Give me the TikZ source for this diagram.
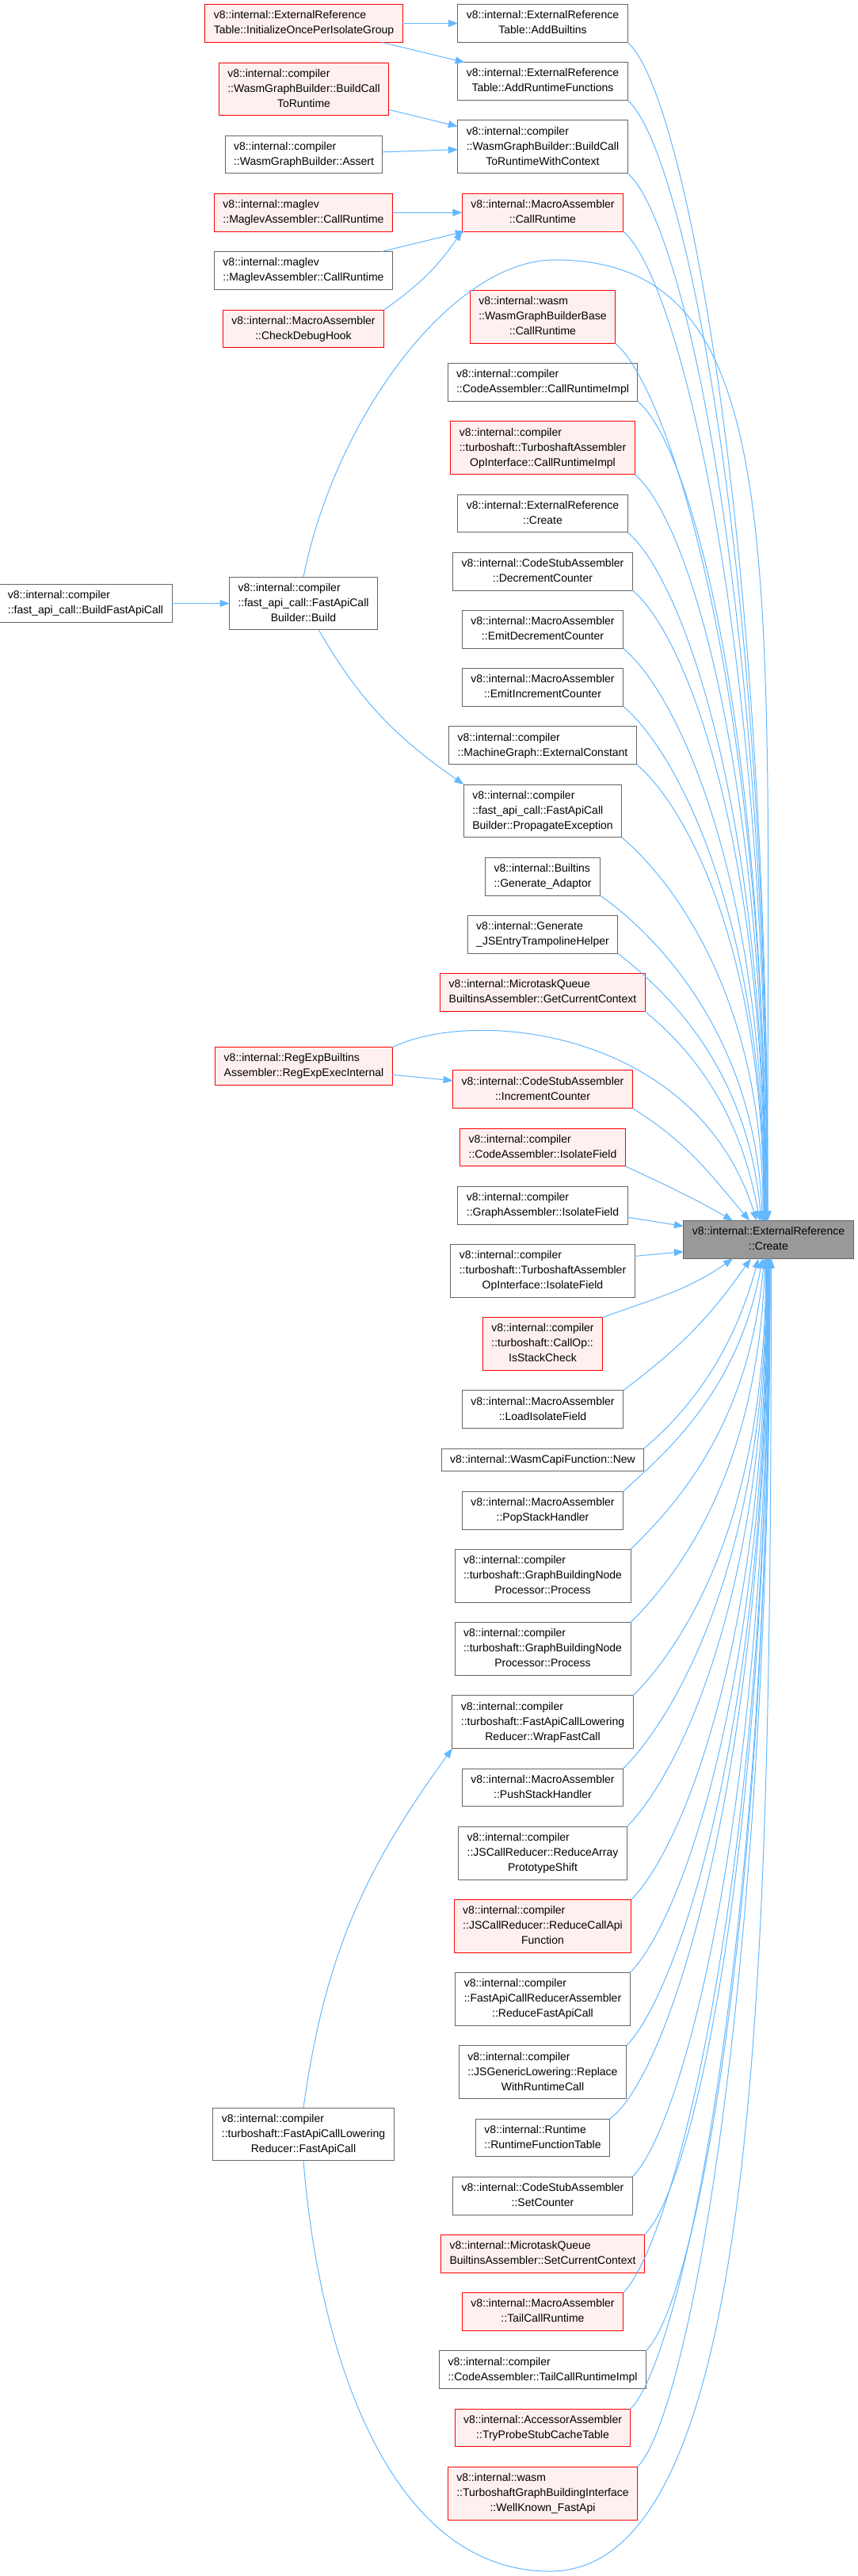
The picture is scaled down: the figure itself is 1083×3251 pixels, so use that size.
\documentclass[tikz,border=0pt]{standalone}
\usepackage{fontspec}
\setmainfont{Liberation Sans}
\usepackage{xcolor}
\usepackage{tikz}
\usetikzlibrary{arrows.meta, positioning}
\definecolor{fngray}{HTML}{666666}
\definecolor{fnredline}{HTML}{FF0000}
\definecolor{fnredfill}{HTML}{FFF0F0}
\definecolor{rootfill}{HTML}{999999}
\definecolor{callblue}{RGB}{99,184,255}
% doxygen-like label: left lines, last line centred
\newcommand{\fnlabel}[2]{\begin{tabular}{@{}l@{}}#1\\\multicolumn{1}{@{}c@{}}{#2}\end{tabular}}
\newcommand{\fnline}[1]{\begin{tabular}{@{}c@{}}#1\end{tabular}}

\begin{document}
\begin{tikzpicture}[
    x=1pt, y=1pt,
    node distance=25.4pt,
    fn/.style={rectangle, draw=fngray, fill=white, line width=1pt, outer sep=0pt, inner xsep=11pt, inner ysep=4.9pt, font=\fontsize{14}{19}\selectfont},
    fnred/.style={fn, draw=fnredline, fill=fnredfill},
    fnroot/.style={fn, fill=rootfill},
    arrow/.style={-{Triangle[length=12pt,width=9pt]}, line width=1pt, draw=callblue}
]
    \fill[white] (0,0) rectangle (1083,-3251);
    \useasboundingbox (0,0) rectangle (1083,-3251);

    % the function itself
    \node[fnroot] (tgt) at (970,-1564.5) {\fnline{v8::internal::ExternalReference\\::Create}};

    % direct callers
    \node[fn] (addbuilt) at (685,-29.5) {\fnlabel{v8::internal::ExternalReference}{Table::AddBuiltins}};
    \node[fn, below=of addbuilt] (addrt) {\fnlabel{v8::internal::ExternalReference}{Table::AddRuntimeFunctions}};
    \node[fn, below=of addrt] (wasmctx) {\fnlabel{v8::internal::compiler\\::WasmGraphBuilder::BuildCall}{ToRuntimeWithContext}};
    \node[fnred, below=of wasmctx] (macrocr) {\fnlabel{v8::internal::MacroAssembler}{::CallRuntime}};
    \node[fnred, below=74.4pt of macrocr] (wasmbase) {\fnlabel{v8::internal::wasm\\::WasmGraphBuilderBase}{::CallRuntime}};
    \node[fn, below=of wasmbase] (cacri) {\fnlabel{v8::internal::compiler}{::CodeAssembler::CallRuntimeImpl}};
    \node[fnred, below=of cacri] (tscri) {\fnlabel{v8::internal::compiler\\::turboshaft::TurboshaftAssembler}{OpInterface::CallRuntimeImpl}};
    \node[fn, below=of tscri] (erc) {\fnlabel{v8::internal::ExternalReference}{::Create}};
    \node[fn, below=of erc] (decctr) {\fnlabel{v8::internal::CodeStubAssembler}{::DecrementCounter}};
    \node[fn, below=of decctr] (emitdec) {\fnlabel{v8::internal::MacroAssembler}{::EmitDecrementCounter}};
    \node[fn, below=of emitdec] (emitinc) {\fnlabel{v8::internal::MacroAssembler}{::EmitIncrementCounter}};
    \node[fn, below=of emitinc] (extconst) {\fnlabel{v8::internal::compiler}{::MachineGraph::ExternalConstant}};
    \node[fn, below=of extconst] (propexc) {\fnlabel{v8::internal::compiler\\::fast\_api\_call::FastApiCall}{Builder::PropagateException}};
    \node[fn, below=of propexc] (genadapt) {\fnlabel{v8::internal::Builtins}{::Generate\_Adaptor}};
    \node[fn, below=of genadapt] (jsentry) {\fnlabel{v8::internal::Generate}{\_JSEntryTrampolineHelper}};
    \node[fnred, below=of jsentry] (getctx) {\fnlabel{v8::internal::MicrotaskQueue}{BuiltinsAssembler::GetCurrentContext}};
    \node[fnred, below=74.4pt of getctx] (incctr) {\fnlabel{v8::internal::CodeStubAssembler}{::IncrementCounter}};
    \node[fnred, below=of incctr] (caiso) {\fnlabel{v8::internal::compiler}{::CodeAssembler::IsolateField}};
    \node[fn, below=of caiso] (gaiso) {\fnlabel{v8::internal::compiler}{::GraphAssembler::IsolateField}};
    \node[fn, below=of gaiso] (tsiso) {\fnlabel{v8::internal::compiler\\::turboshaft::TurboshaftAssembler}{OpInterface::IsolateField}};
    \node[fnred, below=of tsiso] (stackchk) {\fnlabel{v8::internal::compiler\\::turboshaft::CallOp::}{IsStackCheck}};
    \node[fn, below=of stackchk] (loadiso) {\fnlabel{v8::internal::MacroAssembler}{::LoadIsolateField}};
    \node[fn, below=of loadiso] (capinew) {\fnline{v8::internal::WasmCapiFunction::New}};
    \node[fn, below=of capinew] (popsh) {\fnlabel{v8::internal::MacroAssembler}{::PopStackHandler}};
    \node[fn, below=of popsh] (procone) {\fnlabel{v8::internal::compiler\\::turboshaft::GraphBuildingNode}{Processor::Process}};
    \node[fn, below=of procone] (proctwo) {\fnlabel{v8::internal::compiler\\::turboshaft::GraphBuildingNode}{Processor::Process}};
    \node[fn, below=of proctwo] (wrapfc) {\fnlabel{v8::internal::compiler\\::turboshaft::FastApiCallLowering}{Reducer::WrapFastCall}};
    \node[fn, below=of wrapfc] (pushsh) {\fnlabel{v8::internal::MacroAssembler}{::PushStackHandler}};
    \node[fn, below=of pushsh] (arrshift) {\fnlabel{v8::internal::compiler\\::JSCallReducer::ReduceArray}{PrototypeShift}};
    \node[fnred, below=of arrshift] (callapi) {\fnlabel{v8::internal::compiler\\::JSCallReducer::ReduceCallApi}{Function}};
    \node[fn, below=of callapi] (redfac) {\fnlabel{v8::internal::compiler\\::FastApiCallReducerAssembler}{::ReduceFastApiCall}};
    \node[fn, below=of redfac] (replrt) {\fnlabel{v8::internal::compiler\\::JSGenericLowering::Replace}{WithRuntimeCall}};
    \node[fn, below=of replrt] (rtftable) {\fnlabel{v8::internal::Runtime}{::RuntimeFunctionTable}};
    \node[fn, below=of rtftable] (setctr) {\fnlabel{v8::internal::CodeStubAssembler}{::SetCounter}};
    \node[fnred, below=of setctr] (setctx) {\fnlabel{v8::internal::MicrotaskQueue}{BuiltinsAssembler::SetCurrentContext}};
    \node[fnred, below=of setctx] (tailcr) {\fnlabel{v8::internal::MacroAssembler}{::TailCallRuntime}};
    \node[fn, below=of tailcr] (tailcri) {\fnlabel{v8::internal::compiler}{::CodeAssembler::TailCallRuntimeImpl}};
    \node[fnred, below=of tailcri] (probe) {\fnlabel{v8::internal::AccessorAssembler}{::TryProbeStubCacheTable}};
    \node[fnred, below=of probe] (wellknown) {\fnlabel{v8::internal::wasm\\::TurboshaftGraphBuildingInterface}{::WellKnown\_FastApi}};

    % callers of the callers
    \node[fnred] (initonce) at (383.5,-29.5) {\fnlabel{v8::internal::ExternalReference}{Table::InitializeOncePerIsolateGroup}};
    \node[fnred] (wasmcall) at (383.5,-112.5) {\fnlabel{v8::internal::compiler\\::WasmGraphBuilder::BuildCall}{ToRuntime}};
    \node[fn] (wasmassert) at (383.5,-195) {\fnlabel{v8::internal::compiler}{::WasmGraphBuilder::Assert}};
    \node[fnred] (maglevred) at (383,-268.5) {\fnlabel{v8::internal::maglev}{::MaglevAssembler::CallRuntime}};
    \node[fn] (maglev) at (383,-341.5) {\fnlabel{v8::internal::maglev}{::MaglevAssembler::CallRuntime}};
    \node[fnred] (checkhook) at (383,-415) {\fnlabel{v8::internal::MacroAssembler}{::CheckDebugHook}};
    \node[fn] (fastbuild) at (383,-761.5) {\fnlabel{v8::internal::compiler\\::fast\_api\_call::FastApiCall}{Builder::Build}};
    \node[fn] (buildfast) at (108,-761.5) {\fnlabel{v8::internal::compiler}{::fast\_api\_call::BuildFastApiCall}};
    \node[fnred] (regexp) at (383.5,-1345.5) {\fnlabel{v8::internal::RegExpBuiltins}{Assembler::RegExpExecInternal}};
    \node[fn] (fastlower) at (383,-2693.5) {\fnlabel{v8::internal::compiler\\::turboshaft::FastApiCallLowering}{Reducer::FastApiCall}};

    % turning points of the two long loops
    \coordinate (buildtop) at (700,-328);
    \coordinate (lowbottom) at (694,-3245);

    % left side
    \draw[arrow] (initonce) -- (addbuilt);
    \draw[arrow] (initonce) -- (addrt);
    \draw[arrow] (wasmcall) -- (wasmctx);
    \draw[arrow] (wasmassert) -- (wasmctx);
    \draw[arrow] (maglevred) -- (macrocr);
    \draw[arrow] (maglev) -- (macrocr);
    \draw[arrow] (checkhook.north east) to[out=35,in=235] (macrocr.south west);
    \draw[arrow] (buildfast) -- (fastbuild);
    \draw[arrow] (fastbuild) to[out=-60,in=145] (propexc.north west);
    \draw[arrow] (fastbuild.north) .. controls +(40,200) and +(-130,0) .. (buildtop) .. controls +(300,0) and +(0,840) .. (tgt.93);
    \draw[arrow] (regexp) -- (incctr);
    \draw[arrow] (regexp.north east) .. controls +(107,51) and +(-75,240) .. (tgt.122);
    \draw[arrow] (fastlower.north) to[out=82,in=234] (wrapfc.south west);
    \draw[arrow] (fastlower.south) .. controls +(20,-250) and +(-200,0) .. (lowbottom) .. controls +(266,0) and +(0,-900) .. (tgt.-82);

    % into the function, from above
    \draw[arrow] (addbuilt.south east) .. controls +(-40:90pt) and +(90:892pt) .. (tgt.92);
    \draw[arrow] (addrt.south east) .. controls +(-40:90pt) and +(90:848pt) .. (tgt.93);
    \draw[arrow] (wasmctx.south east) .. controls +(-40:90pt) and +(90:792pt) .. (tgt.94);
    \draw[arrow] (macrocr.south east) .. controls +(-40:90pt) and +(90:748pt) .. (tgt.95);
    \draw[arrow] (wasmbase.south east) .. controls +(-40:90pt) and +(90:664pt) .. (tgt.97);
    \draw[arrow] (cacri.south east) .. controls +(-40:90pt) and +(90:620pt) .. (tgt.98);
    \draw[arrow] (tscri.south east) .. controls +(-40:90pt) and +(90:565pt) .. (tgt.99);
    \draw[arrow] (erc.south east) .. controls +(-40:90pt) and +(90:521pt) .. (tgt.100);
    \draw[arrow] (decctr.south east) .. controls +(-40:90pt) and +(90:476pt) .. (tgt.101);
    \draw[arrow] (emitdec.south east) .. controls +(-40:90pt) and +(90:433pt) .. (tgt.102);
    \draw[arrow] (emitinc.south east) .. controls +(-40:85pt) and +(90:389pt) .. (tgt.103);
    \draw[arrow] (extconst.south east) .. controls +(-40:80pt) and +(90:344pt) .. (tgt.104);
    \draw[arrow] (propexc.south east) .. controls +(-40:75pt) and +(90:289pt) .. (tgt.106);
    \draw[arrow] (genadapt.south east) .. controls +(-35:70pt) and +(92:245pt) .. (tgt.108);
    \draw[arrow] (jsentry.south east) .. controls +(-38:65pt) and +(95:202pt) .. (tgt.111);
    \draw[arrow] (getctx.south east) .. controls +(-40:60pt) and +(100:157pt) .. (tgt.115);
    \draw[arrow] (incctr.south east) to[out=-32,in=130] (tgt.135);
    \draw[arrow] (caiso.south east) to[out=-25,in=150] (tgt.152);
    \draw[arrow] (gaiso.-8) -- (tgt.171);

    % into the function, from below
    \draw[arrow] (tsiso.9) -- (tgt.188);
    \draw[arrow] (stackchk.north east) to[out=20,in=-145] (tgt.-152);
    \draw[arrow] (loadiso.north east) to[out=37,in=-125] (tgt.-133);
    \draw[arrow] (capinew.north east) .. controls +(40:50pt) and +(-105:143pt) .. (tgt.-118);
    \draw[arrow] (popsh.north east) .. controls +(43:60pt) and +(-100:175pt) .. (tgt.-108);
    \draw[arrow] (procone.north east) .. controls +(45:70pt) and +(-95:219pt) .. (tgt.-103);
    \draw[arrow] (proctwo.north east) .. controls +(45:80pt) and +(-92:274pt) .. (tgt.-100);
    \draw[arrow] (wrapfc.north east) .. controls +(45:90pt) and +(-90:329pt) .. (tgt.-98);
    \draw[arrow] (pushsh.north east) .. controls +(45:90pt) and +(-90:385pt) .. (tgt.-96);
    \draw[arrow] (arrshift.north east) .. controls +(45:90pt) and +(-90:429pt) .. (tgt.-95);
    \draw[arrow] (callapi.north east) .. controls +(45:90pt) and +(-90:484pt) .. (tgt.-94);
    \draw[arrow] (redfac.north east) .. controls +(45:90pt) and +(-90:539pt) .. (tgt.-93);
    \draw[arrow] (replrt.north east) .. controls +(45:90pt) and +(-90:595pt) .. (tgt.-92);
    \draw[arrow] (rtftable.north east) .. controls +(35:90pt) and +(-90:650pt) .. (tgt.-91);
    \draw[arrow] (setctr.north east) .. controls +(45:90pt) and +(-90:694pt) .. (tgt.-90);
    \draw[arrow] (setctx.north east) .. controls +(45:90pt) and +(-90:738pt) .. (tgt.-89);
    \draw[arrow] (tailcr.north east) .. controls +(45:90pt) and +(-90:782pt) .. (tgt.-88);
    \draw[arrow] (tailcri.north east) .. controls +(45:90pt) and +(-90:826pt) .. (tgt.-87);
    \draw[arrow] (probe.north east) .. controls +(45:90pt) and +(-90:870pt) .. (tgt.-86);
    \draw[arrow] (wellknown.north east) .. controls +(45:90pt) and +(-90:914pt) .. (tgt.-85);
\end{tikzpicture}
\end{document}
